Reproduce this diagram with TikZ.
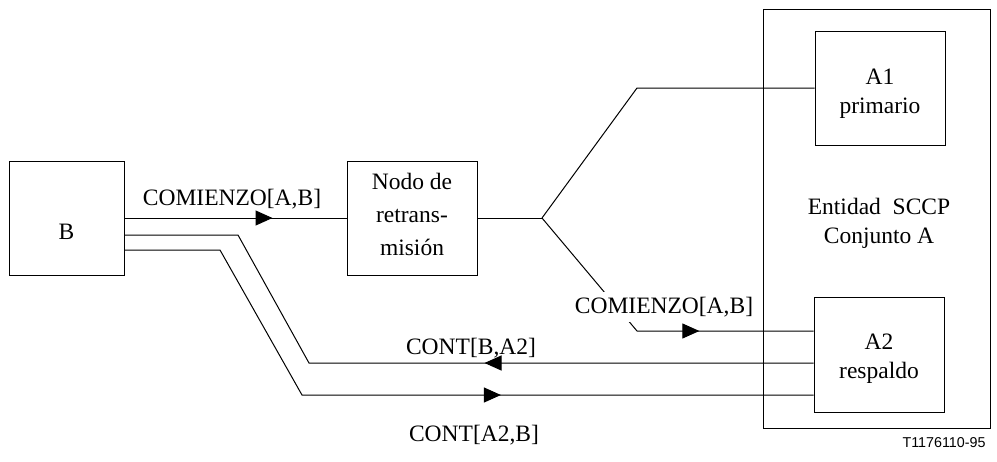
\documentclass[tikz,border=0pt]{standalone}
\usepackage{fontspec}
\setmainfont{Liberation Serif}
\newfontfamily\arialf{Liberation Sans}
\usetikzlibrary{arrows.meta,decorations.markings}
\begin{document}
\begin{tikzpicture}[x=1pt,y=-1pt,
  every node/.style={font=\fontsize{23.5}{29}\selectfont},
  box/.style={draw,line width=1pt,inner sep=0pt},
  txt/.style={align=center,inner sep=0pt},
  wire/.style={line width=1pt},
  lbl/.style={inner sep=1pt},
  midarrow/.style={postaction={decorate},decoration={markings,
     mark=at position #1 with {\arrow{Triangle[length=17pt,width=15pt]}}}}
]
\useasboundingbox (0,0) rectangle (997,461);
% boxes
\node[box,minimum width=115pt,minimum height=114pt] (B) at (66.5,218) {};
\node[box,minimum width=130pt,minimum height=114pt] (N) at (412,218) {};
\node[box,minimum width=227pt,minimum height=419pt] (E) at (876.5,218.5) {};
\node[box,minimum width=130pt,minimum height=114pt] (A1) at (880,88) {};
\node[box,minimum width=130pt,minimum height=115pt] (A2) at (879,354.5) {};
% box texts
\node[txt] (Bt) at (66.5,232) {B};
\node[txt,font=\fontsize{23.5}{33}\selectfont] (Nt) at (412,214) {Nodo de\\retrans-\\misión};
\node[txt] (A1t) at (880,94) {A1\\primario};
\node[txt] (A2t) at (879,359) {A2\\respaldo};
\node[txt] (Et) at (879,223) {Entidad~ SCCP\\Conjunto A};
% coordinates
\coordinate (br) at (542,218);
\coordinate (up) at (637,88);
\coordinate (dn) at (637,331);
\coordinate (b2) at (B.east |- 0,235);
\coordinate (b3) at (B.east |- 0,250);
\coordinate (a2) at (A2.west |- 0,331);
\coordinate (a3) at (A2.west |- 0,363);
\coordinate (a4) at (A2.west |- 0,395);
% connectors
\draw[wire,midarrow=148pt] (B.east) -- (N.west);
\draw[wire] (N.east) -- (br);
\draw[wire] (br) -- (up) -- (A1.west);
\draw[wire,midarrow=210pt] (br) -- (dn) -- (a2);
\draw[wire,midarrow=329pt] (a3) -- (309,363) -- (238,235) -- (b2);
\draw[wire,midarrow=461pt] (b3) -- (220,250) -- (302,395) -- (a4);
% labels
\node[lbl] (l1) at (232,199) {COMIENZO[A,B]};
\node[lbl,fill=white,inner ysep=5pt] (l2) at (664,307) {COMIENZO[A,B]};
\node[lbl] (l3) at (471,348) {CONT[B,A2]};
\node[lbl] (l4) at (474,435) {CONT[A2,B]};
\node[lbl,font=\arialf\fontsize{14.3}{16}\selectfont] (tn) at (944,443) {T1176110-95};
\end{tikzpicture}
\end{document}
